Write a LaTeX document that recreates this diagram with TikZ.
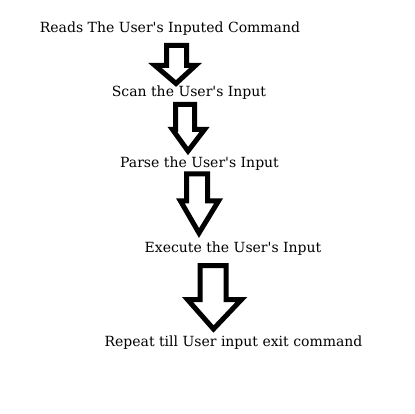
\documentclass[tikz,border=0pt]{standalone}
\usepackage{fontspec}
\setmainfont{DejaVu Serif}
\usepackage{tikz}

\begin{document}
\begin{tikzpicture}[x=1pt, y=-1pt,
    step text/.style ={anchor=base, inner sep=0pt, font=\fontsize{14}{16}\selectfont},
    hollow arrow/.style ={draw, line width=5pt, miter limit=10, fill=white}]
   \useasboundingbox (0,0) rectangle (415,414);
   \node[step text] (read) at (170,33) {Reads The User\textquotesingle s Inputed Command};
   \node[step text] (scan) at (189,97) {Scan the User\textquotesingle s Input};
   \node[step text] (parse) at (199.5,168) {Parse the User\textquotesingle s Input};
   \node[step text] (exec) at (233,252) {Execute the User\textquotesingle s Input};
   \node[step text] (rep) at (233.5,346) {Repeat till User input exit command};

   % read -> scan
   \draw[hollow arrow] (166.5,45.5) -- (186.5,45.5) -- (186.5,65.5) -- (195.5,65.5)
      -- (176,83.5) -- (155,65.5) -- (166.5,65.5) -- cycle;
   % scan -> parse
   \draw[hollow arrow] (175.5,104.5) -- (194.5,104.5) -- (194.5,129.5) -- (204.5,129.5)
      -- (188,151) -- (172.5,129.5) -- (175.5,129.5) -- cycle;
   % parse -> exec
   \draw[hollow arrow] (186.5,174) -- (207.5,174) -- (207.5,201) -- (218.5,201)
      -- (199,233) -- (180.5,201) -- (186.5,201) -- cycle;
   % exec -> rep
   \draw[hollow arrow] (200,265.5) -- (226,265.5) -- (226,299.5) -- (241.5,299.5)
      -- (213.5,329) -- (187.5,299.5) -- (200,299.5) -- cycle;
 \end{tikzpicture}
\end{document}
